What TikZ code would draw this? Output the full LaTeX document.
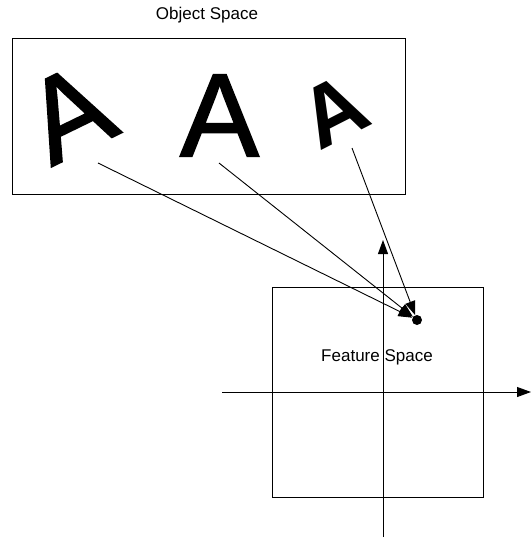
\documentclass[tikz,border=0pt]{standalone}
\usepackage{fontspec}
\setmainfont{Liberation Sans}
\newfontfamily\Afont[FakeBold=1.6]{Liberation Sans}
\usetikzlibrary{arrows.meta}
\begin{document}
\begin{tikzpicture}[x=1pt,y=-1pt,
  frame/.style={draw,line width=0.9pt},
  lbl/.style={font=\fontsize{17}{20}\selectfont,inner sep=0pt},
  bigA/.style={inner sep=0pt,font=\Afont\fontsize{118}{118}\selectfont},
  conn/.style={line width=0.9pt,-{Triangle[length=14pt,width=10pt]}},
  axis/.style={line width=0.9pt,-{Triangle[length=14pt,width=10pt]}}]
\useasboundingbox (0,0) rectangle (531,542);
% Object space
\node[lbl] (objtitle) at (207,15) {Object Space};
\draw[frame] (12.7,38) rectangle (405,194);
\node[bigA,rotate=26] (a1) at (69,113) {A};
\node[bigA] (a2) at (219.5,115.5) {A};
\node[inner sep=0pt,font=\fontsize{86}{86}\selectfont\bfseries,rotate=27] (a3) at (334,111) {A};
\coordinate (s1) at (98,163);
\coordinate (s2) at (219,163);
\coordinate (s3) at (352,148);
% Feature space
\draw[frame] (272,287) rectangle (483,497);
\coordinate (xl) at (222,392);
\coordinate (xr) at (531,392);
\coordinate (yb) at (383,537);
\coordinate (yt) at (383,240);
\draw[axis] (xl) -- (xr);
\draw[axis] (yb) -- (yt);
\node[lbl] (feat) at (377,357) {Feature Space};
\node[circle,fill=black,inner sep=0pt,minimum size=10pt] (dot) at (417,320) {};
\draw[conn] (s1) -- (dot);
\draw[conn] (s2) -- (dot);
\draw[conn] (s3) -- (dot);
\end{tikzpicture}
\end{document}
